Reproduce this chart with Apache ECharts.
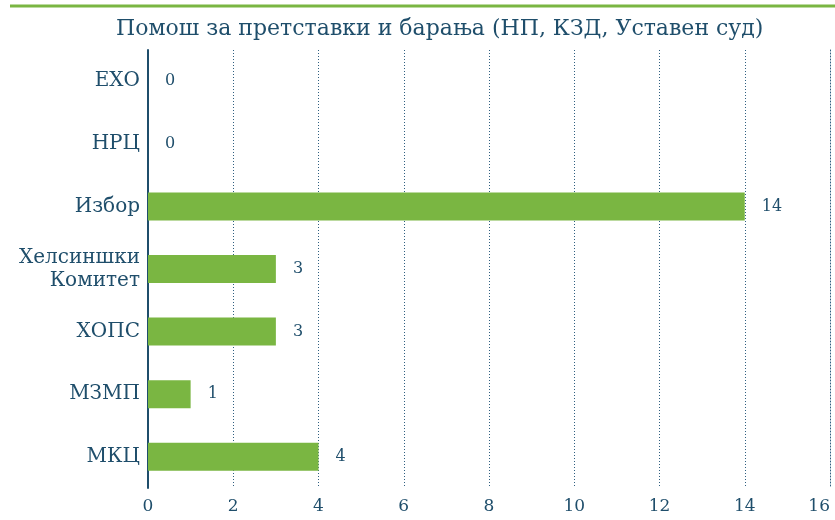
<!DOCTYPE html>
<html>
<head>
<meta charset="utf-8">
<script src="https://cdn.jsdelivr.net/npm/echarts@6/dist/echarts.min.js"></script>
<style>
    html, body {margin: 0; padding: 0; background: #fff;}
    #chart {width: 835px; height: 520px;}
</style>
</head>
<body>
<div id="chart"></div>
<script>
// податоци
var titleText = 'Помош за претставки и барања (НП, КЗД, Уставен суд)';
var categories = ['ЕХО', 'НРЦ', 'Избор', 'Хелсиншки\nКомитет', 'ХОПС', 'МЗМП', 'МКЦ'];
var values = [0, 0, 14, 3, 3, 1, 4];
var xTicks = [0, 2, 4, 6, 8, 10, 12, 14, 16];

var textColor = '#1f4e6b';
var barColor = '#7ab642';
var fontFamily = '"DejaVu Serif", serif';

var myChart = echarts.init(document.getElementById('chart'));

var option = {
    animation: false,
    title: {
        text: titleText,
        left: 111,
        top: 13,
        textStyle: {
            color: textColor,
            fontFamily: fontFamily,
            fontWeight: 'normal',
            fontSize: 22
        }
    },
    graphic: [{
        type: 'line',
        shape: {x1: 10, y1: 6, x2: 835, y2: 6},
        style: {stroke: barColor, lineWidth: 3}
    }],
    grid: {
        left: 148,
        right: 5,
        top: 50,
        bottom: 32,
        containLabel: false,
        outerBoundsMode: 'none'
    },
    xAxis: {
        type: 'value',
        min: xTicks[0],
        max: xTicks[xTicks.length - 1],
        interval: 2,
        axisLine: {show: false},
        axisTick: {show: false},
        axisLabel: {
            color: textColor,
            fontFamily: fontFamily,
            fontSize: 17,
            margin: 10,
            alignMaxLabel: 'right'
        },
        splitLine: {
            show: true,
            showMaxLine: true,
            lineStyle: {
                color: '#2f5f80',
                type: [1, 2],
                width: 1
            }
        }
    },
    yAxis: [{
        type: 'category',
        data: categories,
        inverse: true,
        axisLine: {
            show: true,
            lineStyle: {color: textColor, width: 2}
        },
        axisTick: {show: false},
        axisLabel: {
            color: textColor,
            fontFamily: fontFamily,
            fontSize: 20,
            lineHeight: 23,
            margin: 8,
            align: 'right'
        }
    }, {
        // десна точкаста линија на 16
        type: 'category',
        data: categories,
        inverse: true,
        position: 'right',
        axisLine: {
            show: true,
            lineStyle: {color: '#2f5f80', type: [1, 2], width: 1}
        },
        axisTick: {show: false},
        axisLabel: {show: false}
    }],
    series: [{
        type: 'bar',
        data: values,
        barWidth: 28,
        itemStyle: {color: barColor},
        label: {
            show: true,
            position: 'right',
            distance: 17,
            color: textColor,
            fontFamily: fontFamily,
            fontSize: 16
        }
    }]
};

myChart.setOption(option);
</script>
</body>
</html>
